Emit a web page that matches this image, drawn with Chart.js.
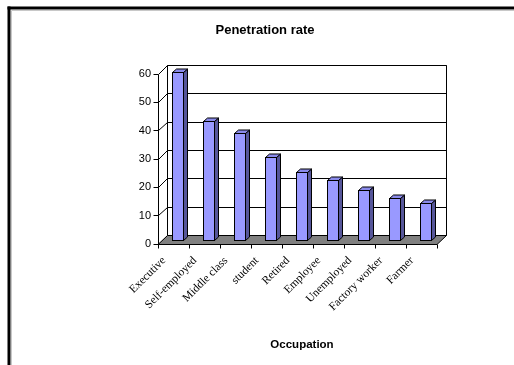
<!DOCTYPE html>
<html>
<head>
<meta charset="utf-8">
<script src="https://cdn.jsdelivr.net/npm/chart.js@4/dist/chart.umd.min.js"></script>
<style>
  html, body { margin: 0; padding: 0; background: #ffffff; }
  #wrap { width: 514px; height: 365px; }
</style>
</head>
<body>
<div id="wrap"><canvas id="chart" width="514" height="365"></canvas></div>
<script>
// Categories and values
const occupations = ['Executive', 'Self-employed', 'Middle class', 'student', 'Retired',
                     'Employee', 'Unemployed', 'Factory worker', 'Farmer'];
const penetrationRate = [59, 42, 37.5, 29, 24, 21, 17.5, 14.5, 13];
const yTicks = [0, 10, 20, 30, 40, 50, 60];

// Oblique offsets of the 3D box relative to the plane the bars stand on
const FRONT = { x: -4.5, y: 4 };
const BACK = { x: 5, y: -4.5 };
const BAR_DEPTH = { x: 4, y: -3.5 };

const FACE = '#9999ff';
const SIDE = '#56569a';
const TOP = '#8a8aea';
const FLOOR = '#808080';

const h = v => Math.round(v - 0.5) + 0.5;

function line(ctx, x1, y1, x2, y2) {
  ctx.beginPath();
  ctx.moveTo(x1, y1);
  ctx.lineTo(x2, y2);
  ctx.stroke();
}

const framePlugin = {
  id: 'frame',
  beforeDraw(chart) {
    const ctx = chart.ctx;
    ctx.save();
    ctx.strokeStyle = '#c8c8c8';
    ctx.lineWidth = 1;
    line(ctx, 11.5, 10.5, 514, 10.5);
    line(ctx, 11.5, 10.5, 11.5, 365);
    ctx.strokeStyle = '#000';
    ctx.lineWidth = 3;
    line(ctx, 7.5, 8, 514, 8);
    line(ctx, 9, 6.5, 9, 365);
    ctx.restore();
  }
};

const boxPlugin = {
  id: 'box3d',
  beforeDatasetsDraw(chart) {
    const ctx = chart.ctx;
    const xs = chart.scales.x, ys = chart.scales.y;
    const L = xs.left, R = xs.right;
    const y0 = ys.getPixelForValue(0);
    const yMax = ys.getPixelForValue(yTicks[yTicks.length - 1]);
    ctx.save();
    ctx.lineWidth = 1;
    ctx.strokeStyle = '#000';

    // back wall
    ctx.fillStyle = '#fff';
    ctx.fillRect(L + BACK.x, yMax + BACK.y, R - L, y0 - yMax);
    ctx.beginPath();
    ctx.moveTo(h(L + BACK.x), h(y0 + BACK.y));
    ctx.lineTo(h(L + BACK.x), h(yMax + BACK.y));
    ctx.lineTo(h(R + BACK.x), h(yMax + BACK.y));
    ctx.lineTo(h(R + BACK.x), h(y0 + BACK.y));
    ctx.stroke();

    // gridlines on the back wall, side diagonals and value ticks
    yTicks.forEach(v => {
      const py = ys.getPixelForValue(v);
      line(ctx, h(L + BACK.x), h(py + BACK.y), h(R + BACK.x), h(py + BACK.y));
      line(ctx, h(L + FRONT.x), h(py + FRONT.y), h(L + BACK.x), h(py + BACK.y));
      line(ctx, h(L + FRONT.x) - 5, h(py + FRONT.y), h(L + FRONT.x), h(py + FRONT.y));
    });

    // front value axis
    line(ctx, h(L + FRONT.x), h(y0 + FRONT.y), h(L + FRONT.x), h(yMax + FRONT.y));

    // floor
    ctx.fillStyle = FLOOR;
    ctx.beginPath();
    ctx.moveTo(L + FRONT.x, h(y0 + FRONT.y));
    ctx.lineTo(R + FRONT.x, h(y0 + FRONT.y));
    ctx.lineTo(R + BACK.x, h(y0 + BACK.y));
    ctx.lineTo(L + BACK.x, h(y0 + BACK.y));
    ctx.closePath();
    ctx.fill();
    ctx.stroke();

    // category ticks along the front edge of the floor
    const cw = (R - L) / occupations.length;
    for (let i = 0; i <= occupations.length; i++) {
      const px = h(L + i * cw + FRONT.x);
      line(ctx, px, h(y0 + FRONT.y), px, h(y0 + FRONT.y) + 4);
    }
    ctx.restore();
  },
  afterDatasetsDraw(chart) {
    const ctx = chart.ctx;
    const meta = chart.getDatasetMeta(0);
    ctx.save();
    ctx.lineWidth = 1;
    ctx.strokeStyle = '#000';
    ctx.lineJoin = 'miter';
    meta.data.forEach(bar => {
      const { x, y, base, width } = bar.getProps(['x', 'y', 'base', 'width'], true);
      const l = h(x - width / 2), r = h(x + width / 2), t = h(y), b = h(base);
      // side face
      ctx.fillStyle = SIDE;
      ctx.beginPath();
      ctx.moveTo(r, t);
      ctx.lineTo(r + BAR_DEPTH.x, t + BAR_DEPTH.y);
      ctx.lineTo(r + BAR_DEPTH.x, b + BAR_DEPTH.y);
      ctx.lineTo(r, b);
      ctx.closePath();
      ctx.fill();
      ctx.stroke();
      // top face
      ctx.fillStyle = TOP;
      ctx.beginPath();
      ctx.moveTo(l, t);
      ctx.lineTo(l + BAR_DEPTH.x, t + BAR_DEPTH.y);
      ctx.lineTo(r + BAR_DEPTH.x, t + BAR_DEPTH.y);
      ctx.lineTo(r, t);
      ctx.closePath();
      ctx.fill();
      ctx.stroke();
      // front face outline
      ctx.strokeRect(l, t, r - l, b - t);
    });
    ctx.restore();
  }
};

new Chart(document.getElementById('chart'), {
  type: 'bar',
  data: {
    labels: occupations,
    datasets: [{
      label: 'Penetration rate',
      data: penetrationRate,
      backgroundColor: FACE,
      borderWidth: 0,
      barPercentage: 0.355,
      categoryPercentage: 1
    }]
  },
  options: {
    responsive: false,
    animation: false,
    devicePixelRatio: 1,
    layout: { padding: { left: 88.5, right: 72.5, top: 0, bottom: 0 } },
    plugins: {
      legend: { display: false },
      tooltip: { enabled: false },
      title: {
        display: true,
        text: 'Penetration rate',
        color: '#000',
        font: { family: 'Liberation Sans', size: 13, weight: 'bold' },
        padding: { top: 23, bottom: 31.4 }
      }
    },
    scales: {
      x: {
        grid: { display: false, drawTicks: false },
        border: { display: false },
        ticks: {
          color: '#000',
          font: { family: 'Liberation Serif', size: 11.5 },
          minRotation: 45,
          maxRotation: 45,
          autoSkip: false,
          padding: 14,
          labelOffset: -14
        },
        title: {
          display: true,
          text: 'Occupation',
          color: '#000',
          font: { family: 'Liberation Sans', size: 11.5, weight: 'bold' },
          padding: { top: 0, bottom: 13.4 }
        },
        afterFit(s) { s.height = 125; }
      },
      y: {
        min: 0,
        max: 60,
        grid: { display: false, drawTicks: false },
        border: { display: false },
        ticks: {
          stepSize: 10,
          color: '#000',
          font: { family: 'Liberation Sans', size: 11 },
          padding: 11.5,
          labelOffset: 4
        },
        afterFit(s) { s.width = 74; }
      }
    }
  },
  plugins: [framePlugin, boxPlugin]
});
</script>
</body>
</html>
